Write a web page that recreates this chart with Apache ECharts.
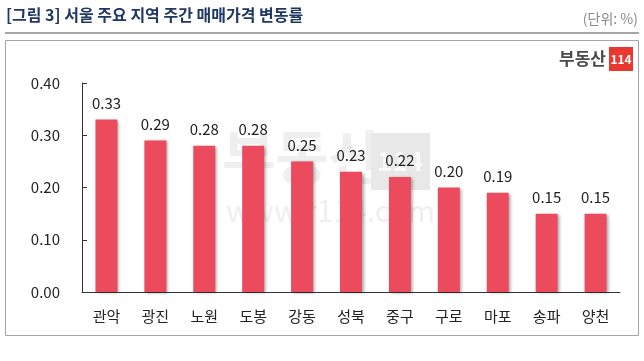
<!DOCTYPE html>
<html><head><meta charset="utf-8">
<script src="https://cdn.jsdelivr.net/npm/echarts@6/dist/echarts.min.js"></script>
<style>html,body{margin:0;padding:0;background:#fff}#c{width:644px;height:361px}</style>
</head><body><div id="c"></div>
<script>
var categories = ['관악','광진','노원','도봉','강동','성북','중구','구로','마포','송파','양천'];
var values = [0.33,0.29,0.28,0.28,0.25,0.23,0.22,0.20,0.19,0.15,0.15];
var yTicks = [0, 0.1, 0.2, 0.3, 0.4];
var titleText = '[그림 3] 서울 주요 지역 주간 매매가격 변동률';
var unitText = '(단위: %)';
var FONT = '"Noto Sans CJK KR", "Noto Sans", sans-serif';
var chart = echarts.init(document.getElementById('c'));
chart.setOption({
  animation: false,
  backgroundColor: '#fff',
  textStyle: {fontFamily: FONT},
  graphic: [
    {type:'text', left: 6, top: 7, style:{text: titleText, font: 'bold 16px ' + FONT, fill:'#1f3864'}},
    {type:'text', right: 6, top: 12, style:{text: unitText, font: '14px ' + FONT, fill:'#8a8a8a'}},
    {type:'rect', shape:{x:5, y:32, width:634, height:2}, style:{fill:'#a6a6a6'}},
    {type:'rect', shape:{x:5.5, y:40.5, width:633, height:295}, style:{fill:'none', stroke:'#a6a6a6', lineWidth:1}},
    // logo
    {type:'text', x: 606, y: 59, style:{text:'부동산', font:'bold 17px ' + FONT, fill:'#4a4a4a', textAlign:'right', textVerticalAlign:'middle'}},
    {type:'rect', shape:{x:609, y:47, width:24, height:24}, style:{fill:'#e8382f'}},
    {type:'text', x: 621, y: 59, style:{text:'114', font:'bold 12px ' + FONT, fill:'#fff', textAlign:'center', textVerticalAlign:'middle'}},
    // watermark
    {type:'text', x: 222, y: 128, z: -10, style:{text:'부동산', font:'bold 58px ' + FONT, fill:'#efefef'}},
    {type:'rect', z: -10, shape:{x:371, y:133, width:59, height:57}, style:{fill:'#e8e8e8'}},
    {type:'text', x: 400, y: 161, z: -9, style:{text:'114', font:'bold 26px ' + FONT, fill:'#fafafa', textAlign:'center', textVerticalAlign:'middle'}},
    {type:'text', x: 226, y: 196, z: -10, style:{text:'www.r114.com', font:'30px ' + FONT, fill:'#efefef'}}
  ],
  grid: {left: 82, right: 24, top: 83, bottom: 69, containLabel: false},
  xAxis: {
    type: 'category', data: categories,
    axisLine: {lineStyle: {color: '#333', width: 1}},
    axisTick: {inside: true, length: 5, lineStyle:{color:'#333'}},
    axisLabel: {color: '#222', fontSize: 15, margin: 17, fontFamily: FONT}
  },
  yAxis: {
    type: 'value', min: yTicks[0], max: yTicks[yTicks.length-1], interval: 0.1,
    axisLine: {show: true, lineStyle: {color: '#333', width: 1}},
    axisTick: {show: true, inside: true, length: 5, lineStyle:{color:'#333'}},
    splitLine: {show: false},
    axisLabel: {color: '#222', fontSize: 15, margin: 22, fontFamily: FONT, formatter: function(v){return v.toFixed(2);}}
  },
  series: [{
    type: 'bar', data: values, barWidth: 22,
    itemStyle: {color: '#ec4b5d', shadowColor: 'rgba(0,0,0,0.35)', shadowBlur: 3, shadowOffsetX: 2, shadowOffsetY: 1},
    label: {show: true, position: 'top', distance: 9, color: '#222', fontSize: 15, fontFamily: FONT, formatter: function(p){return p.value.toFixed(2);}}
  }]
});
</script></body></html>
